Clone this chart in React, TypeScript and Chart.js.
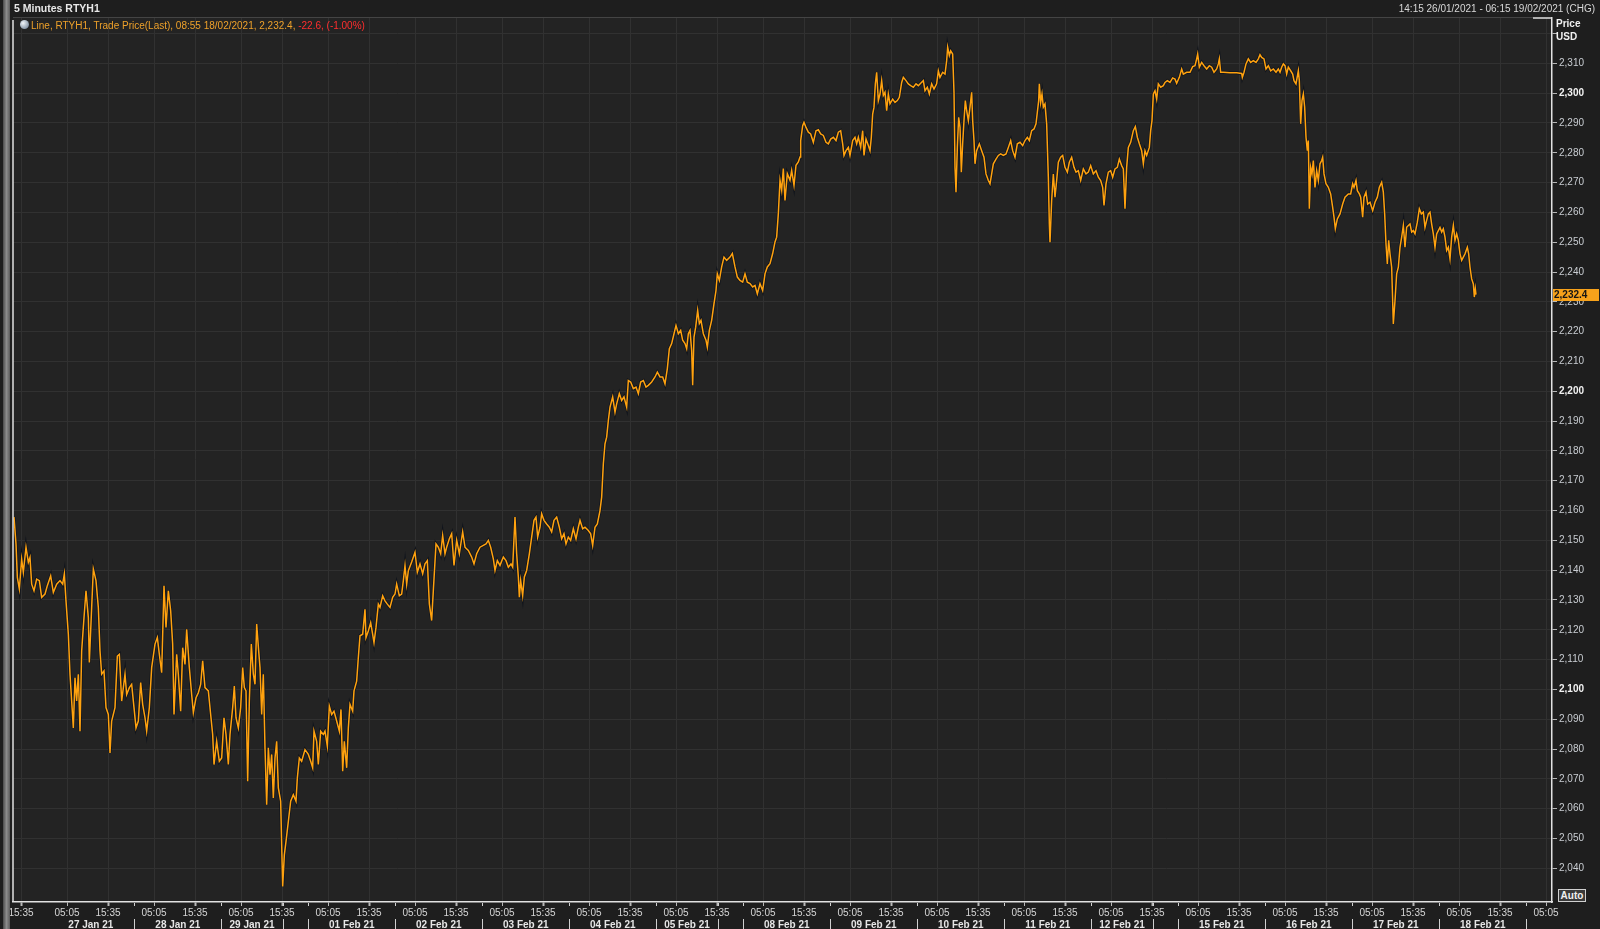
import React, { useEffect, useRef } from "react";
import { Chart, registerables } from "chart.js";

Chart.register(...registerables);

// ---- time axis model: one trading-day slot = 261 steps, slot d starts at d * 261 ----
const STEPS_PER_DAY = 261;
const FRIDAY_CLOSE_STEP = 184;
const STEP_0505 = 59;
const STEP_1535 = 182;
const AXIS_START = 158;
const AXIS_END = 4775;

const PRICE_MIN = 2028.7;
const PRICE_MAX = 2325.2;
const PRICE_TICKS = [2040, 2050, 2060, 2070, 2080, 2090, 2100, 2110, 2120, 2130, 2140, 2150, 2160, 2170, 2180, 2190, 2200, 2210, 2220, 2230, 2240, 2250, 2260, 2270, 2280, 2290, 2300, 2310, 2320];

const dayLabels = ["26 Jan 21", "27 Jan 21", "28 Jan 21", "29 Jan 21", "01 Feb 21", "02 Feb 21", "03 Feb 21", "04 Feb 21", "05 Feb 21", "08 Feb 21", "09 Feb 21", "10 Feb 21", "11 Feb 21", "12 Feb 21", "15 Feb 21", "16 Feb 21", "17 Feb 21", "18 Feb 21", "19 Feb 21"];
const fridaySlots = [3, 8, 13];
const timeTickLabels = ["05:05", "15:35"];

const LAST_PRICE = 2232.4;

// ---- RTYH1 5-minute trade price (sampled from the chart) ----
const timeA = [161,167,171,177,184,189,197,204,209,214,221,229,237,244,254,261,271,279,289,299,307,312,317,324,329,334,339,344,349,354,359,364,371,377,384,387,394,399,407,414,419,424,431,437,444,449,454,464,471,477,484,494,499,507,514,521,527,534,541,547,554,559,567,574,584,591,597,604,611,617,624,631,637,641,649,654,661,667,674,679,687,694,699,707,714,721,727,734,744,751,757,761,769,777,784,791,797,804,809,817,822,827,834,841,847,852,857,862,867,873,879,884,889,895,899,904,909,914,919,924,929,934,939,944,949,954,961,967,972,977,984,991,999,1007,1011,1017,1024,1034,1044,1051,1057,1061,1069,1074,1081,1089,1094,1101,1107,1114,1121,1129,1137,1142,1147,1152,1159,1164,1169,1177,1181,1189,1194,1199,1207,1214,1217,1224,1231,1237,1241,1247,1254,1259,1267,1274,1281,1289,1297,1304,1309,1317,1324,1329,1334,1339,1344];
const priceA = [2157.8,2148.8,2137.6,2133.7,2143.7,2139.3,2147.7,2142.6,2144.3,2135.3,2133.1,2137.0,2136.5,2130.9,2132.0,2134.8,2138.1,2132.5,2135.3,2136.5,2135.3,2138.7,2129.7,2118.5,2105.1,2096.1,2087.1,2103.9,2096.1,2105.1,2086.0,2112.9,2124.1,2133.1,2124.1,2109.0,2127.5,2140.4,2136.5,2127.5,2112.9,2105.1,2106.2,2093.9,2091.6,2078.7,2089.4,2093.9,2111.2,2111.8,2096.1,2105.1,2098.3,2100.6,2101.7,2093.9,2087.1,2089.4,2102.3,2095.0,2090.5,2086.0,2093.9,2107.3,2115.2,2117.4,2111.8,2105.6,2134.8,2120.8,2133.1,2126.4,2115.2,2091.6,2111.8,2105.1,2092.7,2114.0,2108.4,2120.2,2107.3,2098.3,2092.2,2097.2,2098.9,2101.7,2109.6,2100.6,2099.5,2091.6,2084.9,2074.8,2082.6,2075.9,2077.0,2090.5,2084.9,2074.8,2084.9,2093.9,2101.1,2090.5,2087.1,2093.9,2107.3,2100.6,2099.5,2069.2,2096.1,2115.2,2105.1,2101.7,2121.9,2112.9,2107.3,2091.6,2105.1,2080.4,2061.3,2080.4,2071.4,2078.2,2063.6,2077.0,2082.6,2067.0,2062.5,2033.9,2044.5,2049.0,2055.7,2062.5,2064.7,2062.5,2070.3,2077.0,2075.9,2079.8,2078.2,2075.9,2073.7,2086.0,2082.6,2074.8,2086.0,2084.9,2086.0,2081.0,2094.4,2091.6,2092.7,2089.4,2086.0,2093.3,2072.6,2082.6,2073.7,2087.1,2095.0,2092.7,2099.5,2102.8,2110.7,2118.0,2118.5,2126.9,2117.4,2119.6,2122.4,2118.5,2115.7,2120.8,2128.6,2127.5,2131.4,2129.7,2128.6,2127.5,2130.9,2132.0,2135.3,2131.4,2132.0,2136.5,2141.5,2135.3,2139.8];

const timeB = [1354,1364,1371,1379,1387,1394,1401,1407,1414,1419,1427,1434,1441,1447,1454,1459,1467,1474,1481,1489,1497,1507,1514,1524,1534,1541,1549,1559,1569,1577,1584,1591,1599,1604,1611,1619,1629,1637,1644,1652,1657,1664,1669,1674,1677,1681,1687,1692,1699,1707,1714,1721,1727,1732,1739,1744,1751,1759,1767,1774,1781,1789,1797,1804,1811,1817,1824,1831,1839,1847,1854,1859,1867,1874,1884,1891,1897,1904,1911,1919,1924,1929,1934,1939,1944,1949,1957,1964,1969,1977,1984,1991,1999,2004,2011,2019,2027,2034,2041,2049,2057,2064,2074,2084,2091,2099,2107,2114,2121,2127,2134,2141,2147,2154,2161,2167,2174,2179,2184,2189,2194,2197,2201,2206,2212,2217,2222,2229,2237,2241,2247,2254,2261,2267,2271,2277,2284,2291,2299,2309,2316,2324,2331,2339,2347,2354,2361,2369,2377,2384,2391,2399,2407,2414,2421,2429,2437,2444,2449,2454,2459,2464,2469,2474,2481,2489,2494,2501,2507,2514,2519];
const priceB = [2142.7,2146.0,2139.3,2142.1,2138.8,2142.1,2143.2,2128.7,2123.1,2133.2,2148.8,2147.7,2145.5,2151.6,2145.5,2147.7,2150.5,2152.2,2141.6,2150.0,2145.5,2152.8,2147.7,2146.6,2144.4,2142.1,2145.5,2147.7,2148.3,2148.8,2150.0,2147.7,2143.8,2139.9,2143.2,2141.6,2144.4,2143.2,2141.0,2142.1,2141.0,2157.8,2145.5,2137.7,2130.9,2136.5,2131.5,2137.7,2139.9,2145.5,2151.1,2156.7,2157.8,2151.1,2154.4,2158.9,2156.7,2155.5,2154.4,2152.8,2156.7,2157.8,2154.4,2150.5,2152.2,2148.8,2151.1,2150.0,2153.9,2150.5,2154.4,2156.7,2153.9,2154.4,2153.3,2152.2,2148.3,2154.4,2155.5,2160.0,2164.5,2175.7,2182.4,2184.6,2190.2,2194.7,2198.1,2193.0,2195.8,2199.2,2196.9,2198.1,2194.7,2203.6,2203.1,2200.9,2201.4,2199.2,2203.1,2203.6,2201.4,2202.0,2203.1,2204.8,2206.4,2204.8,2204.8,2202.5,2207.6,2214.3,2216.0,2219.3,2222.1,2219.3,2220.4,2217.1,2216.0,2214.3,2219.3,2220.4,2213.7,2202.0,2218.2,2221.5,2227.1,2222.7,2223.8,2219.3,2217.1,2214.8,2220.4,2223.8,2229.4,2233.8,2239.4,2237.2,2241.7,2245.0,2243.9,2245.0,2246.2,2241.7,2238.3,2237.2,2236.6,2239.4,2236.6,2236.1,2235.0,2235.5,2232.7,2236.1,2233.8,2239.4,2241.7,2242.8,2246.2,2250.1,2251.7,2259.6,2270.8,2267.4,2274.7,2264.0,2273.0,2270.8,2274.1,2269.1,2275.8,2276.9,2278.6];

const timeC = [2521,2527,2531,2537,2544,2551,2559,2567,2574,2581,2589,2597,2604,2611,2619,2627,2634,2641,2647,2651,2657,2664,2669,2677,2684,2689,2694,2701,2707,2711,2717,2724,2729,2733,2737,2741,2745,2749,2754,2759,2764,2769,2774,2779,2784,2789,2797,2804,2811,2817,2824,2829,2837,2844,2851,2859,2867,2874,2881,2889,2894,2901,2907,2914,2921,2929,2934,2939,2947,2954,2959,2962,2967,2971,2977,2981,2984,2987,2991,2995,2999,3003,3007,3011,3015,3019,3024,3029,3034,3037,3041,3044,3049,3057,3064,3071,3077,3084,3089,3094,3099,3107,3114,3121,3129,3137,3144,3151,3157,3164,3171,3179,3187,3194,3201,3207,3214,3221,3227,3231,3235,3237,3241,3245,3249,3254,3259,3264,3267,3269,3274,3279,3284,3289,3294,3301,3307,3314,3321,3327,3334,3341,3347,3354,3361,3369,3377,3384,3391,3399,3407,3414,3421,3427,3431,3437,3444,3451,3457,3464,3471,3477,3484,3489,3494,3499,3504,3511,3519,3525,3531,3537,3544,3549,3554,3559,3567,3571,3575,3579,3584,3589,3594,3601,3609,3614,3621,3629,3637,3644,3649,3657,3664,3669,3679];
const priceC = [2284.1,2289.1,2290.2,2288.5,2286.9,2286.3,2283.5,2287.4,2287.7,2286.3,2285.8,2283.5,2283.0,2284.6,2285.2,2284.1,2286.9,2287.4,2283.0,2279.1,2280.7,2281.8,2279.1,2284.1,2285.2,2283.0,2285.2,2281.8,2287.4,2279.1,2284.6,2282.4,2280.7,2285.2,2293.0,2295.3,2303.1,2307.0,2297.5,2299.7,2304.2,2299.2,2300.3,2294.1,2299.7,2296.4,2298.0,2296.9,2297.5,2298.6,2303.6,2305.3,2304.2,2303.1,2302.5,2302.0,2303.1,2302.5,2303.3,2304.2,2300.8,2302.0,2299.7,2303.1,2301.4,2303.1,2307.5,2305.3,2307.0,2306.4,2310.9,2315.4,2312.6,2314.2,2313.1,2300.3,2275.1,2266.8,2281.8,2291.9,2288.5,2273.5,2283.0,2290.8,2297.5,2294.1,2290.8,2295.3,2300.3,2290.8,2284.1,2276.3,2280.7,2283.0,2280.7,2278.5,2272.9,2270.7,2269.6,2272.9,2276.3,2277.9,2279.1,2279.6,2279.1,2279.6,2281.8,2284.1,2280.7,2278.5,2283.0,2283.5,2282.4,2284.1,2285.2,2284.1,2287.4,2288.0,2289.7,2293.6,2297.5,2303.1,2296.9,2299.7,2295.3,2296.4,2289.7,2271.8,2256.1,2250.0,2264.0,2272.9,2265.1,2270.7,2276.8,2278.5,2279.1,2275.1,2273.5,2276.8,2278.5,2275.1,2273.5,2274.0,2270.7,2274.6,2272.9,2273.5,2275.7,2272.9,2274.0,2271.8,2270.7,2268.4,2262.3,2269.6,2273.5,2274.0,2271.8,2274.6,2275.1,2277.9,2275.7,2274.6,2261.2,2275.1,2281.8,2283.5,2287.4,2288.8,2285.2,2283.0,2280.7,2276.3,2280.7,2279.1,2281.8,2287.4,2290.8,2299.7,2300.8,2298.0,2303.1,2302.0,2302.5,2303.6,2304.2,2303.6,2305.1,2304.7,2303.3,2305.3,2308.1,2306.4,2307.0];

const timeD = [3689,3697,3704,3709,3712,3717,3724,3731,3739,3747,3754,3761,3769,3774,3777,3781,3789,3809,3829,3844,3846,3851,3857,3864,3871,3879,3887,3894,3899,3904,3911,3917,3924,3931,3939,3947,3954,3959,3964,3969,3974,3979,3984,3991,3997,4001,4007,4014,4017,4021,4025,4029,4033,4037,4041,4044,4047,4051,4055,4059,4064,4069,4074,4079,4084,4087,4091,4097,4104,4111,4117,4121,4125,4131,4139,4147,4154,4164,4171,4177,4181,4187,4191,4197,4201,4207,4211,4217,4222,4229,4237,4244,4251,4257,4264,4269,4273,4277,4281,4285,4289,4294,4299,4304,4309,4314,4319,4324,4329,4334,4339,4344,4349,4354,4359,4364,4371,4377,4383,4389,4394,4399,4404,4409,4414,4419,4424,4429,4434,4439,4444,4449,4454,4459,4464,4469,4474,4479,4484,4489,4494,4499,4504,4509,4514,4521,4525,4529,4534,4539,4542,4545,4547];
const priceD = [2307.0,2308.9,2309.2,2311.5,2313.1,2308.7,2310.3,2309.2,2308.1,2309.2,2308.7,2307.0,2308.1,2309.8,2311.5,2307.0,2307.0,2306.8,2306.8,2306.6,2305.3,2307.0,2309.8,2311.5,2310.3,2310.9,2310.3,2311.5,2312.9,2312.0,2311.5,2308.1,2309.2,2307.5,2308.1,2307.0,2308.1,2307.0,2308.7,2309.8,2309.2,2306.4,2308.7,2307.5,2306.4,2304.2,2303.1,2307.5,2304.2,2289.7,2297.5,2299.7,2295.3,2285.2,2280.7,2284.1,2261.2,2275.1,2272.9,2277.4,2268.4,2274.0,2270.7,2276.3,2277.4,2278.5,2272.9,2269.6,2268.4,2266.2,2261.7,2258.4,2254.5,2257.8,2259.5,2262.8,2265.1,2266.2,2266.2,2269.6,2268.4,2270.7,2267.3,2266.2,2265.1,2258.4,2265.1,2266.8,2262.8,2263.4,2260.6,2263.4,2265.1,2268.4,2270.1,2266.8,2259.5,2249.4,2242.7,2250.6,2246.1,2241.6,2222.6,2230.4,2239.4,2241.6,2248.3,2251.7,2255.6,2248.3,2255.0,2255.6,2256.1,2253.4,2253.9,2252.8,2256.7,2261.2,2259.5,2260.1,2255.0,2257.3,2259.5,2260.1,2256.1,2252.8,2248.3,2252.8,2253.9,2255.0,2253.4,2254.5,2251.7,2247.2,2248.3,2244.4,2251.7,2255.6,2250.6,2252.8,2250.6,2246.1,2243.9,2245.0,2246.1,2248.3,2246.1,2241.6,2237.7,2236.0,2231.6,2234.4,2232.4];

const FONT = '"Liberation Sans", Arial, sans-serif';

function buildPoints() {
  const pts: { x: number; y: number }[] = [];
  const segs: [number[], number[]][] = [[timeA, priceA], [timeB, priceB], [timeC, priceC], [timeD, priceD]];
  for (const [t, p] of segs) {
    const n = Math.min(t.length, p.length);
    for (let i = 0; i < n; i++) pts.push({ x: t[i], y: p[i] });
  }
  return pts;
}

function buildTimeTicks() {
  const out: { value: number; label: string }[] = [];
  for (let d = 0; d < dayLabels.length; d++) {
    const base = d * STEPS_PER_DAY;
    const vals = [base + STEP_0505, base + STEP_1535];
    vals.forEach((v, i) => {
      if (v > AXIS_START && v < AXIS_END) out.push({ value: v, label: timeTickLabels[i] });
    });
  }
  return out;
}

function buildDateTicks() {
  const out: { value: number; label: string }[] = [];
  for (let d = 1; d < dayLabels.length - 1; d++) {
    const len = fridaySlots.includes(d) ? FRIDAY_CLOSE_STEP : STEPS_PER_DAY;
    out.push({ value: d * STEPS_PER_DAY + len / 2, label: dayLabels[d] });
  }
  return out;
}

function buildSeparators() {
  const out: number[] = [];
  for (let d = 2; d < dayLabels.length; d++) out.push(d * STEPS_PER_DAY);
  fridaySlots.forEach((d) => out.push(d * STEPS_PER_DAY + FRIDAY_CLOSE_STEP));
  return out;
}

export default function App() {
  const ref = useRef<HTMLCanvasElement | null>(null);

  useEffect(() => {
    document.body.style.margin = "0";
    document.body.style.background = "#1e1e1e";
    const canvas = ref.current;
    if (!canvas) return;
    Chart.defaults.font.family = FONT;

    const priceLine = buildPoints();
    const shadowLine = priceLine.map((p) => ({ x: p.x, y: p.y }));
    const timeTicks = buildTimeTicks();
    const dateTicks = buildDateTicks();
    const separators = buildSeparators();

    const bgPlugin = {
      id: "bgPlugin",
      beforeDraw(chart: any) {
        const { ctx, chartArea: a } = chart;
        ctx.save();
        ctx.fillStyle = "#232323";
        ctx.fillRect(a.left, a.top, a.right - a.left, a.bottom - a.top);
        ctx.restore();
      },
    };

    const decorPlugin = {
      id: "decorPlugin",
      afterDraw(chart: any) {
        const { ctx, chartArea: a, scales } = chart;
        const xs = scales.x;
        const ys = scales.y;
        const line = (x1: number, y1: number, x2: number, y2: number) => {
          ctx.beginPath();
          ctx.moveTo(x1, y1);
          ctx.lineTo(x2, y2);
          ctx.stroke();
        };
        ctx.save();
        ctx.strokeStyle = "#444444";
        ctx.lineWidth = 1;
        line(a.left, a.top - 0.5, a.right - 19, a.top - 0.5);
        ctx.strokeStyle = "#e2e2e2";
        ctx.lineWidth = 1.5;
        line(a.left, a.top + 2, a.left, a.bottom);
        line(a.right - 19, a.top, a.right, a.top);
        ctx.strokeStyle = "#cfcfcf";
        ctx.lineWidth = 1;
        separators.forEach((v) => {
          const px = Math.round(xs.getPixelForValue(v)) + 0.5;
          line(px, 919, px, 929);
          line(px, a.bottom + 1, px, a.bottom + 4);
        });
        const py = ys.getPixelForValue(LAST_PRICE);
        ctx.fillStyle = "#f7a21b";
        ctx.fillRect(a.right + 1, Math.round(py) - 6, 46, 12);
        ctx.fillStyle = "#151515";
        ctx.font = `bold 10px ${FONT}`;
        ctx.textBaseline = "middle";
        ctx.textAlign = "left";
        ctx.fillText(LAST_PRICE.toLocaleString("en-US", { minimumFractionDigits: 1 }), a.right + 2, Math.round(py) + 0.5);
        ctx.restore();
      },
    };

    const chart = new Chart(canvas, {
      type: "line",
      data: {
        datasets: [
          { data: priceLine, borderColor: "#ffa20f", borderWidth: 1.5, pointRadius: 0, tension: 0, fill: false, order: 1 },
          { data: shadowLine, borderColor: "#10141c", borderWidth: 3, pointRadius: 0, tension: 0, fill: false, order: 2 },
        ],
      },
      options: {
        animation: false,
        responsive: false,
        devicePixelRatio: 1,
        parsing: false,
        normalized: true,
        events: [],
        layout: { padding: { left: 13, top: 18, right: 0, bottom: 0 } },
        plugins: { legend: { display: false }, tooltip: { enabled: false } },
        scales: {
          x: {
            type: "linear",
            position: "bottom",
            min: AXIS_START,
            max: AXIS_END,
            weight: 0,
            afterBuildTicks: (s: any) => {
              s.ticks = timeTicks.map((t) => ({ value: t.value }));
            },
            afterFit: (s: any) => {
              s.height = 16;
            },
            ticks: {
              autoSkip: false,
              maxRotation: 0,
              minRotation: 0,
              padding: 1,
              color: "#d6d6d6",
              font: { size: 10, family: FONT },
              callback: (_v: any, i: number) => (timeTicks[i] ? timeTicks[i].label : ""),
            },
            grid: {
              color: "#313131",
              lineWidth: 1,
              tickLength: 4,
              tickColor: "#b8b8b8",
              tickWidth: (c: any) => (timeTicks[c.index] && timeTicks[c.index].label === "15:35" ? 2 : 1),
            },
            border: { display: true, color: "#e2e2e2", width: 1.5 },
          },
          xd: {
            type: "linear",
            position: "bottom",
            min: AXIS_START,
            max: AXIS_END,
            weight: 1,
            afterBuildTicks: (s: any) => {
              s.ticks = dateTicks.map((t) => ({ value: t.value }));
            },
            afterFit: (s: any) => {
              s.height = 11;
            },
            ticks: {
              autoSkip: false,
              maxRotation: 0,
              minRotation: 0,
              padding: 1,
              color: "#e6e6e6",
              font: { size: 10, weight: "bold", family: FONT },
              callback: (_v: any, i: number) => (dateTicks[i] ? dateTicks[i].label : ""),
            },
            grid: { display: false, drawTicks: false },
            border: { display: false },
          },
          y: {
            type: "linear",
            position: "right",
            min: PRICE_MIN,
            max: PRICE_MAX,
            afterBuildTicks: (s: any) => {
              s.ticks = PRICE_TICKS.map((v) => ({ value: v }));
            },
            afterFit: (s: any) => {
              s.width = 48;
            },
            ticks: {
              padding: 2,
              color: (c: any) => (c.tick && c.tick.value % 100 === 0 ? "#f2f2f2" : "#c9cdd2"),
              font: (c: any) => ({ size: 10, family: FONT, weight: c.tick && c.tick.value % 100 === 0 ? "bold" : "normal" }),
              callback: (v: any) => (v >= 2320 ? "" : Number(v).toLocaleString("en-US")),
            },
            grid: { color: "#313131", lineWidth: 1, tickLength: 5, tickColor: "#b8b8b8" },
            border: { display: true, color: "#e2e2e2", width: 1.5 },
          },
        },
      } as any,
      plugins: [bgPlugin, decorPlugin],
    });
    return () => chart.destroy();
  }, []);

  const txt: React.CSSProperties = { position: "absolute", fontFamily: FONT, whiteSpace: "nowrap", lineHeight: "13px" };

  return (
    <div style={{ position: "fixed", left: 0, top: 0, width: 1600, height: 929, background: "#1e1e1e", overflow: "hidden" }}>
      <canvas ref={ref} width={1600} height={929} style={{ position: "absolute", left: 0, top: 0, width: 1600, height: 929 }} />
      <div style={{ position: "absolute", left: 3, top: 0, width: 7, height: 929, background: "linear-gradient(to right, #4b4b4b, #8c8c8c 50%, #5c5c5c)" }} />
      <div style={{ ...txt, left: 14, top: 2, fontSize: 10.5, fontWeight: "bold", color: "#e8e8e8" }}>5 Minutes RTYH1</div>
      <div style={{ ...txt, right: 5, top: 2, fontSize: 10, color: "#d8d8d8" }}>14:15 26/01/2021 - 06:15 19/02/2021 (CHG)</div>
      <div style={{ ...txt, left: 1556, top: 17, fontSize: 10, fontWeight: "bold", color: "#f0f0f0" }}>Price</div>
      <div style={{ ...txt, left: 1556, top: 30, fontSize: 10, fontWeight: "bold", color: "#f0f0f0" }}>USD</div>
      <div style={{ position: "absolute", left: 20, top: 20, width: 9, height: 9, borderRadius: "50%", background: "radial-gradient(circle at 35% 35%, #f2f6fa, #8a99aa 70%, #5d6b7a)" }} />
      <div style={{ ...txt, left: 31, top: 19, fontSize: 10, color: "#eea12a" }}>
        Line, RTYH1, Trade Price(Last), 08:55 18/02/2021, 2,232.4, <span style={{ color: "#ff2e2e" }}>-22.6, (-1.00%)</span>
      </div>
      <div style={{ position: "absolute", left: 1558, top: 889, width: 26, height: 11, border: "1px solid #d0d0d0", background: "#3a3a3a", color: "#f0f0f0", fontFamily: FONT, fontSize: 10, fontWeight: "bold", lineHeight: "11px", textAlign: "center" }}>Auto</div>
    </div>
  );
}
